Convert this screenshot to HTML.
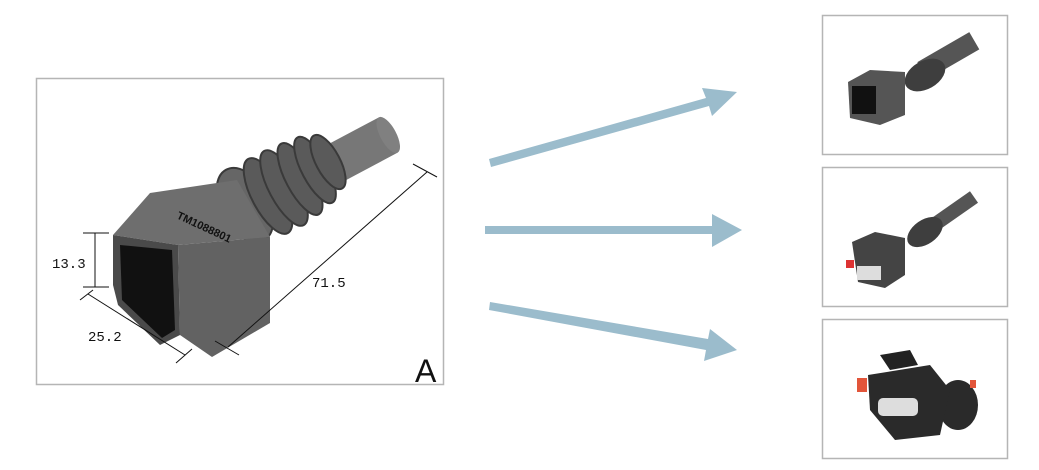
<!DOCTYPE html>
<html><head><meta charset="utf-8"><style>
html,body{margin:0;padding:0;background:#fff;width:1039px;height:470px;overflow:hidden}
svg{display:block}
</style></head><body>
<svg width="1039" height="470" viewBox="0 0 1039 470" xmlns="http://www.w3.org/2000/svg">
<rect x="36.5" y="78.5" width="407" height="306" fill="#fff" stroke="#b5b5b5" stroke-width="1.5"/>
<!-- tube -->
<g transform="rotate(-28 360 150)">
<rect x="300" y="130" width="92" height="40" fill="#777"/>
<ellipse cx="392" cy="150" rx="8" ry="20" fill="#808080"/>
</g>
<!-- bellows -->
<g stroke="#3a3a3a" stroke-width="2">
<ellipse cx="245" cy="205" rx="24" ry="40" transform="rotate(-28 245 205)" fill="#666"/>
<ellipse cx="268" cy="196" rx="16" ry="42" transform="rotate(-28 268 196)" fill="#5a5a5a"/>
<ellipse cx="284" cy="188" rx="15" ry="42" transform="rotate(-28 284 188)" fill="#5a5a5a"/>
<ellipse cx="300" cy="179" rx="14" ry="40" transform="rotate(-28 300 179)" fill="#5a5a5a"/>
<ellipse cx="315" cy="170" rx="13" ry="37" transform="rotate(-28 315 170)" fill="#5a5a5a"/>
<ellipse cx="328" cy="162" rx="12" ry="30" transform="rotate(-28 328 162)" fill="#5a5a5a"/>
</g>
<!-- box body -->
<polygon points="113,235 150,193 237,180 270,237 178,245" fill="#6e6e6e"/>
<polygon points="178,245 270,237 270,323 212,357 180,335" fill="#626262"/>
<polygon points="113,235 178,245 180,335 160,345 118,305 113,285" fill="#4a4a4a"/>
<polygon points="120,245 172,250 175,330 162,338 122,300" fill="#111"/>
<text x="176" y="218" font-family="Liberation Sans, sans-serif" font-size="11" font-weight="bold" fill="#111" transform="rotate(25 176 218)">TM1088801</text>
<g stroke="#111" stroke-width="1" fill="none">
<line x1="95" y1="233" x2="95" y2="287"/>
<line x1="83" y1="233" x2="109" y2="233"/>
<line x1="83" y1="287" x2="109" y2="287"/>
<line x1="88" y1="294" x2="185" y2="355"/>
<line x1="80" y1="300" x2="93" y2="290"/>
<line x1="176" y1="363" x2="192" y2="349"/>
<line x1="228" y1="347" x2="427" y2="172"/>
<line x1="215" y1="341" x2="239" y2="355"/>
<line x1="413" y1="164" x2="437" y2="177"/>
</g>
<g font-family="Liberation Mono, monospace" font-size="14" fill="#111">
<text x="52" y="268">13.3</text>
<text x="88" y="341">25.2</text>
<text x="312" y="287">71.5</text>
</g>
<text x="415" y="382" font-family="Liberation Sans, sans-serif" font-size="32" fill="#111">A</text>
<g fill="#9bbccc">
<polygon points="489,159 706,98 702,88 737,92 712,116 709,106 491,167"/>
<polygon points="485,226 712,226 712,214 742,230 712,247 712,234 485,234"/>
<polygon points="490,302 708,339 710,329 737,350 704,361 706,350 489,310"/>
</g>
<g fill="#fff" stroke="#b5b5b5" stroke-width="1.5">
<rect x="822.5" y="15.5" width="185" height="139"/>
<rect x="822.5" y="167.5" width="185" height="139"/>
<rect x="822.5" y="319.5" width="185" height="139"/>
</g>
<g>
<g transform="rotate(-30 945 60)"><rect x="920" y="48" width="60" height="20" fill="#555"/></g>
<ellipse cx="925" cy="75" rx="22" ry="14" transform="rotate(-30 925 75)" fill="#3e3e3e"/>
<polygon points="848,82 870,70 905,72 905,115 880,125 850,118" fill="#555"/>
<rect x="852" y="86" width="24" height="28" fill="#111"/>
</g>
<g>
<g transform="rotate(-35 950 215)"><rect x="925" y="207" width="55" height="14" fill="#555"/></g>
<ellipse cx="925" cy="232" rx="20" ry="12" transform="rotate(-35 925 232)" fill="#3e3e3e"/>
<polygon points="852,242 875,232 905,238 905,275 885,288 858,282" fill="#444"/>
<rect x="846" y="260" width="8" height="8" fill="#d33"/>
<rect x="857" y="266" width="24" height="14" fill="#ddd"/>
</g>
<g>
<polygon points="880,355 910,350 918,365 890,370" fill="#222"/>
<ellipse cx="958" cy="405" rx="20" ry="25" fill="#2a2a2a"/>
<polygon points="868,375 930,365 950,390 940,435 895,440 870,410" fill="#2a2a2a"/>
<rect x="857" y="378" width="10" height="14" fill="#e2553a"/>
<rect x="970" y="380" width="6" height="8" fill="#e2553a"/>
<rect x="878" y="398" width="40" height="18" rx="5" fill="#ddd"/>
</g>
</svg>
</body></html>
